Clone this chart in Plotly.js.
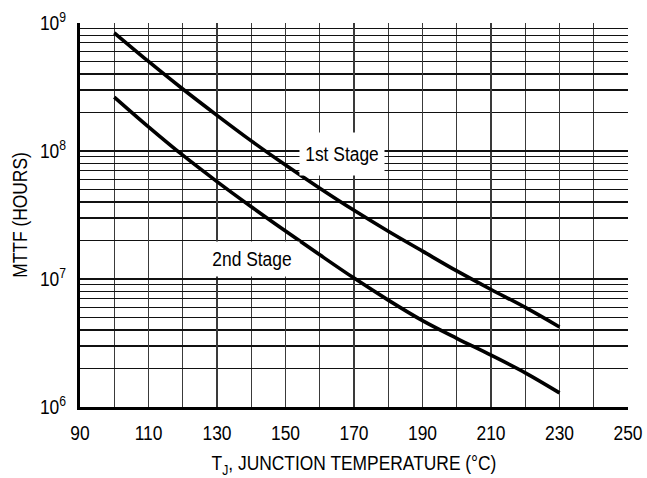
<!DOCTYPE html>
<html>
<head>
<meta charset="utf-8">
<script src="https://cdn.plot.ly/plotly-3.0.1.min.js"></script>
<style>html,body{margin:0;padding:0;background:#fff;}#chart{width:647px;height:478px;}</style>
</head>
<body>
<div id="chart"></div>
<script>
// Junction temperature (°C)
var tempC = [100, 110, 120, 130, 140, 150, 160, 170, 180, 190, 200, 210, 220, 230];
// MTTF (hours)
var stage1 = [8.39e8, 5.01e8, 3.05e8, 1.90e8, 1.20e8, 7.76e7, 5.12e7, 3.44e7, 2.36e7, 1.65e7, 1.156e7, 8.28e6, 6.0e6, 4.22e6];
var stage2 = [2.64e8, 1.545e8, 9.27e7, 5.77e7, 3.67e7, 2.37e7, 1.545e7, 1.016e7, 6.84e6, 4.73e6, 3.44e6, 2.54e6, 1.85e6, 1.29e6];
var seriesNames = ["1st Stage", "2nd Stage"];
var yTickVals = [1e6, 1e7, 1e8, 1e9];
var yTickText = ["10<sup>6</sup>", "10<sup>7</sup>", "10<sup>8</sup>", "10<sup>9</sup>"];
var yMinorVals = [2e6, 3e6, 4e6, 5e6, 6e6, 7e6, 8e6, 9e6,
                  2e7, 3e7, 4e7, 5e7, 6e7, 7e7, 8e7, 9e7,
                  2e8, 3e8, 4e8, 5e8, 6e8, 7e8, 8e8, 9e8];

var FONT = "'Liberation Sans', Arial, sans-serif";
var FS = 20;
var lineStyle = {color: "#000", width: 3.6, shape: "spline", smoothing: 1};

var traces = [
  {x: tempC, y: stage1, mode: "lines", name: seriesNames[0], line: lineStyle, hoverinfo: "skip"},
  {x: tempC, y: stage2, mode: "lines", name: seriesNames[1], line: lineStyle, hoverinfo: "skip"}
];

var layout = {
  width: 647, height: 478,
  margin: {l: 80, r: 19, t: 23, b: 71},
  paper_bgcolor: "#fff", plot_bgcolor: "#fff",
  showlegend: false,
  font: {family: FONT, size: FS, color: "#000"},
  xaxis: {
    range: [90, 250], tick0: 90, dtick: 20,
    showgrid: true, gridcolor: "#3a3a3a", gridwidth: 1.2,
    minor: {dtick: 10, showgrid: true, gridcolor: "#3a3a3a", gridwidth: 1.2, ticks: ""},
    showline: true, linecolor: "#000", linewidth: 3,
    ticks: "", ticklabelstandoff: 6, zeroline: false,
    tickfont: {family: FONT, size: FS, color: "#000"},
    title: {text: "T<sub>J</sub>, JUNCTION TEMPERATURE (°C)", font: {family: FONT, size: FS, color: "#000"}, standoff: 14}
  },
  yaxis: {
    type: "log", range: [6, 9], tickmode: "array", tickvals: yTickVals, ticktext: yTickText,
    showgrid: true, gridcolor: "#111", gridwidth: 1.2,
    minor: {tickmode: "array", tickvals: yMinorVals, showgrid: true, gridcolor: "#111", gridwidth: 1.2, ticks: ""},
    showline: true, linecolor: "#000", linewidth: 3,
    ticks: "", ticklabelstandoff: 7, zeroline: false,
    tickfont: {family: FONT, size: FS, color: "#000"},
    title: {text: "MTTF (HOURS)", font: {family: FONT, size: FS, color: "#000"}, standoff: 3}
  },
  annotations: [
    {x: 166.4, y: 7.973, xref: "x", yref: "y", text: seriesNames[0], showarrow: false,
     bgcolor: "#fff", borderpad: 0, width: 84, height: 42, font: {family: FONT, size: FS, color: "#000"}},
    {x: 140.1, y: 7.159, xref: "x", yref: "y", text: seriesNames[1], showarrow: false,
     bgcolor: "#fff", borderpad: 0, width: 94, height: 34, font: {family: FONT, size: FS, color: "#000"}}
  ]
};

Plotly.newPlot("chart", traces, layout, {staticPlot: true, displayModeBar: false}).then(function (gd) {
  // narrow the lettering, like the condensed face of the original
  var SX = 0.87;
  gd.querySelectorAll("svg text").forEach(function (t) {
    if (!t.textContent) return;
    var b = t.getBBox();
    var anchor = t.getAttribute("text-anchor") || "start";
    var cx = anchor === "end" ? b.x + b.width : (anchor === "middle" ? b.x + b.width / 2 : b.x);
    var cy = b.y + b.height / 2;
    var tr = t.getAttribute("transform") || "";
    t.setAttribute("transform", tr + " translate(" + cx + "," + cy + ") scale(" + SX + ",1) translate(" + (-cx) + "," + (-cy) + ")");
  });
});
</script>
</body>
</html>
